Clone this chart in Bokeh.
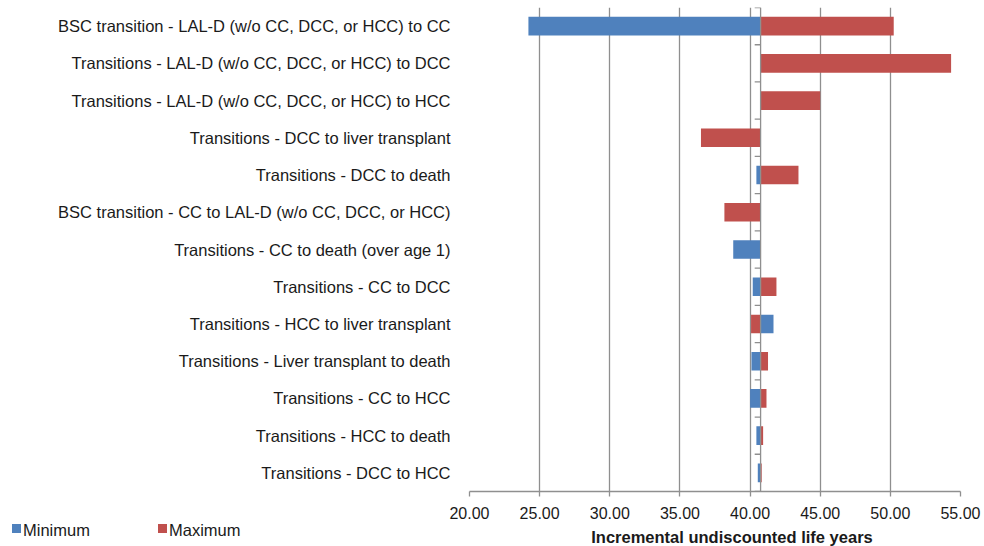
from bokeh.plotting import figure
from bokeh.layouts import column
from bokeh.models import (Range1d, FixedTicker, Span, Div,
                          ColumnDataSource, CustomJSTickFormatter)
from bokeh.embed import file_html
from bokeh.resources import INLINE

categories = [
    "BSC transition - LAL-D (w/o CC, DCC, or HCC) to CC",
    "Transitions - LAL-D (w/o CC, DCC, or HCC) to DCC",
    "Transitions - LAL-D (w/o CC, DCC, or HCC) to HCC",
    "Transitions - DCC to liver transplant",
    "Transitions - DCC to death",
    "BSC transition - CC to LAL-D (w/o CC, DCC, or HCC)",
    "Transitions - CC to death (over age 1)",
    "Transitions - CC to DCC",
    "Transitions - HCC to liver transplant",
    "Transitions - Liver transplant to death",
    "Transitions - CC to HCC",
    "Transitions - HCC to death",
    "Transitions - DCC to HCC",
]
base_value = 40.75
minimum = [24.2, 40.75, 40.75, 40.75, 40.45, 40.75, 38.8, 40.19, 41.67, 40.1, 40.0, 40.45, 40.55]
maximum = [50.24, 54.33, 45.0, 36.5, 43.45, 38.17, 40.75, 41.88, 40.07, 41.28, 41.17, 40.93, 40.83]
x_ticks = [20, 25, 30, 35, 40, 45, 50, 55]
series_names = ["Minimum", "Maximum"]
x_title = "Incremental undiscounted life years"

n = len(categories)
ypos = [n - i - 0.5 for i in range(n)]

src = ColumnDataSource(dict(y=ypos, mn=minimum, mx=maximum,
                            base=[base_value] * n))

FONT = "Liberation Sans"
BLUE = "#4F81BD"
RED = "#C0504D"
GRID = "#8f8f8f"
TXT = "#1a1a1a"

# ---------------- main chart ----------------
p = figure(width=984, height=524, output_backend="svg", toolbar_location=None,
           x_range=Range1d(20, 55), y_range=Range1d(0, n),
           min_border_left=469, min_border_right=24, min_border_top=7,
           min_border_bottom=33)
p.outline_line_color = None
p.background_fill_color = "white"
p.border_fill_color = "white"

p.hbar(y="y", left="base", right="mn", height=0.5, source=src,
       fill_color=BLUE, line_color=None)
p.hbar(y="y", left="base", right="mx", height=0.5, source=src,
       fill_color=RED, line_color=None)

# base axis line and category tick marks
p.add_layout(Span(location=base_value, dimension="height", line_color=GRID,
                  line_width=1.3))
bounds = list(range(0, n + 1))
p.segment(x0=[base_value - 0.42] * len(bounds), x1=[base_value] * len(bounds),
          y0=bounds, y1=bounds, line_color=GRID, line_width=1.3)

xa = p.xaxis[0]
xa.ticker = FixedTicker(ticks=x_ticks)
xa.formatter = CustomJSTickFormatter(code="return tick.toFixed(2);")
xa.axis_line_color = GRID
xa.axis_line_width = 1.3
xa.major_tick_line_color = GRID
xa.major_tick_line_width = 1.3
xa.major_tick_out = 5
xa.major_tick_in = 0
xa.minor_tick_line_color = None
xa.major_label_text_font = FONT
xa.major_label_text_font_size = "16px"
xa.major_label_text_color = TXT
xa.major_label_standoff = 10

ya = p.yaxis[0]
ya.ticker = FixedTicker(ticks=ypos)
ya.major_label_overrides = {y: c for y, c in zip(ypos, categories)}
ya.axis_line_color = None
ya.major_tick_line_color = None
ya.minor_tick_line_color = None
ya.major_label_text_font = FONT
ya.major_label_text_font_size = "16.5px"
ya.major_label_text_color = TXT
ya.major_label_standoff = 13

p.xgrid.ticker = FixedTicker(ticks=x_ticks)
p.xgrid.grid_line_color = GRID
p.xgrid.grid_line_width = 1.3
p.ygrid.grid_line_color = None

# ---------------- bottom strip: legend + axis title ----------------
base_style = ("position:absolute;white-space:nowrap;line-height:1;"
              f"font-family:'{FONT}';font-size:16.5px;color:{TXT};")
parts = []
for name, color, x0 in zip(series_names, [BLUE, RED], [12, 158]):
    parts.append(f'<span style="position:absolute;left:{x0}px;top:0px;'
                 f'width:9px;height:9px;background:{color};"></span>')
    parts.append(f'<span style="{base_style}left:{x0 + 11}px;top:-2px;">{name}</span>')
parts.append(f'<span style="{base_style}left:732px;top:4.5px;font-weight:bold;'
             f'transform:translateX(-50%);">{x_title}</span>')
html = ('<div style="position:relative;width:984px;height:22px;">'
        + "".join(parts) + "</div>")
strip = Div(text=html, width=984, height=22, margin=0)

layout = column(p, strip, spacing=0)
open("out.html", "w").write(file_html(layout, INLINE))
